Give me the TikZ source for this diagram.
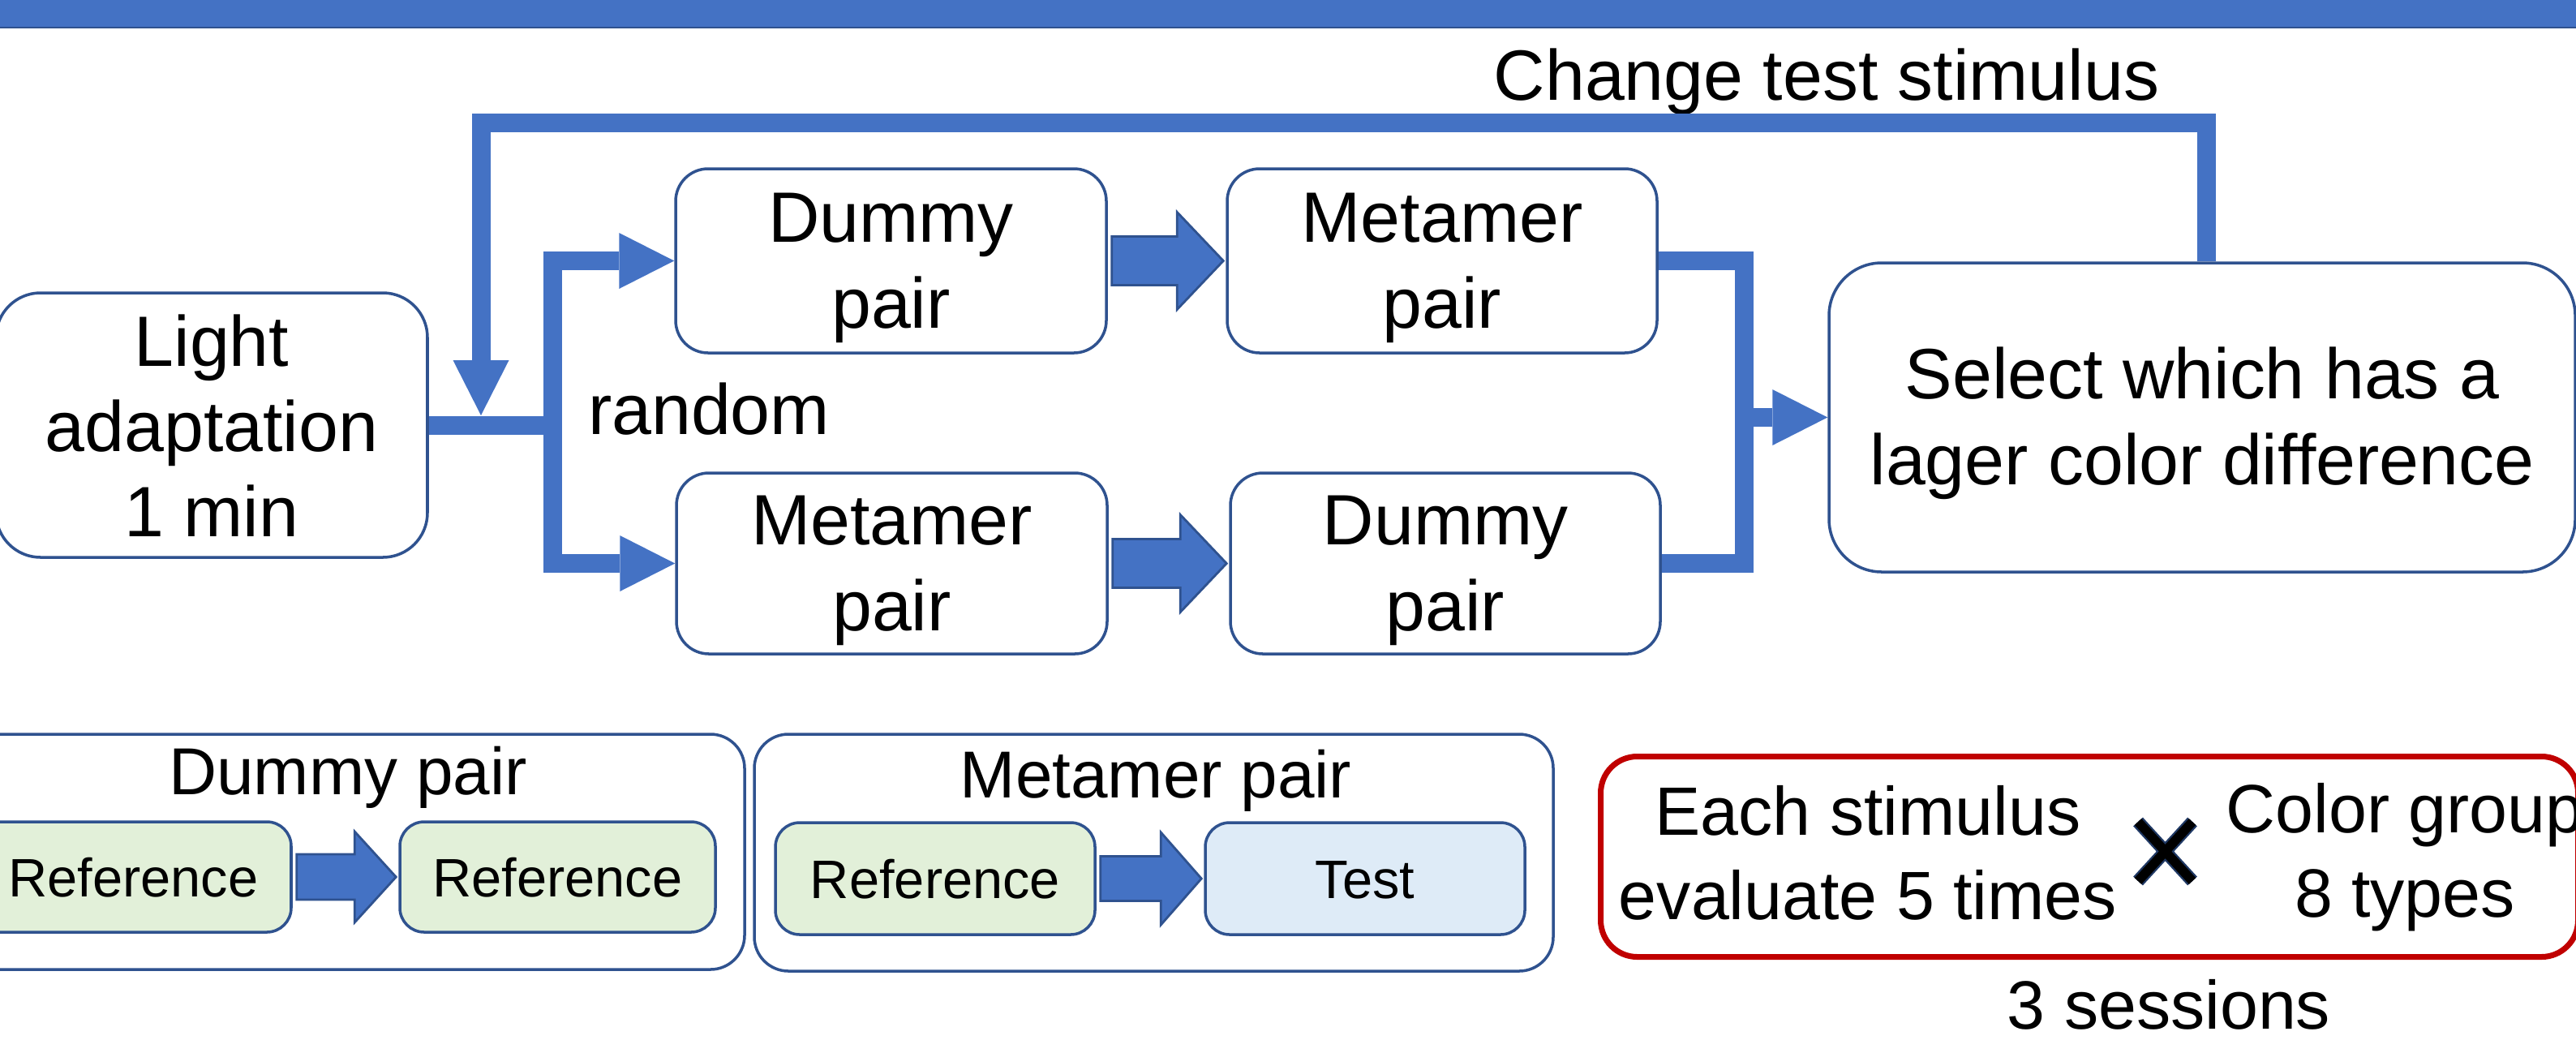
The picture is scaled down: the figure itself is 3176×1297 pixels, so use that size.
\documentclass[tikz,border=0pt]{standalone}
\usepackage{fontspec}
\setmainfont{Liberation Sans}
\usepackage{xcolor}
\usepackage{tikz}
\usetikzlibrary{arrows.meta, calc}
\definecolor{FlowBlue}{RGB}{68, 114, 196}
\definecolor{FlowEdge}{RGB}{47, 82, 143}
\definecolor{RefGreen}{RGB}{226, 240, 217}
\definecolor{TestBlue}{RGB}{222, 235, 247}
\definecolor{NoteRed}{RGB}{192, 0, 0}
\definecolor{CrossEdge}{RGB}{31, 56, 100}

% line strut so that boxes centre their lines like a slide does
\newcommand{\lstrut}{\rule[-0.15em]{0pt}{1.04em}}
\newcommand{\bigtext}{\fontsize{25}{30}\selectfont}
\newcommand{\midtext}{\fontsize{24}{29.5}\selectfont}
\newcommand{\legtext}{\fontsize{23.3}{28}\selectfont}
\newcommand{\smalltext}{\fontsize{19}{23}\selectfont}

\tikzset{
  stepbox/.style={align=center, inner sep=0pt, rounded corners=4mm, draw=FlowEdge,
    line width=1pt, fill=white, font=\bigtext},
  pairbox/.style={align=center, inner sep=0pt, rounded corners=3mm, draw=FlowEdge,
    line width=1pt, fill=RefGreen, font=\smalltext},
  legendbox/.style={rounded corners=4.2mm, draw=FlowEdge, line width=1pt, fill=white},
  notetext/.style={align=center, inner sep=0pt, font=\midtext},
  flow/.style={draw=FlowBlue, line width=2.3mm},
  flowarrow/.style={flow, -{Triangle[length=6.8mm, width=6.9mm, line width=0pt]}},
  blockarrow/.style={fill=FlowBlue, draw=FlowEdge, line width=0.8pt, line join=miter}
}

% fat arrow between two anchors: #3 half shaft, #4 half head, #5 head length
\newcommand{\blockarrow}[5]{%
  \draw[blockarrow] let \p1=(#1), \p2=(#2) in
    (\x1+0.5mm,\y1+#3) -- (\x2-#5,\y1+#3) -- (\x2-#5,\y1+#4) -- (\x2-0.3mm,\y1)
    -- (\x2-#5,\y1-#4) -- (\x2-#5,\y1-#3) -- (\x1+0.5mm,\y1-#3) -- cycle;}

\begin{document}
\begin{tikzpicture}[x=0.1mm, y=0.1mm]
  \useasboundingbox (0,0) rectangle (3176,-1297);
  \clip (0,0) rectangle (3176,-1297);

  % header strip
  \fill[FlowBlue] (0,0) rectangle (3176,-34);
  \draw[FlowEdge, line width=0.8pt] (0,-34) -- (3176,-34);

  % trial flow
  \node[stepbox, rounded corners=5.5mm, minimum width=53.2mm, minimum height=32.6mm]
    (light) at (261,-524) {\lstrut Light\\adaptation\\1 min\lstrut};
  \node[stepbox, minimum width=53.1mm, minimum height=22.7mm] (dummyA) at (1098.5,-321.5) {\lstrut Dummy\\pair\lstrut};
  \node[stepbox, minimum width=53mm, minimum height=22.7mm] (metaA) at (1778,-321.5) {\lstrut Metamer\\pair\lstrut};
  \node[stepbox, minimum width=53.1mm, minimum height=22.3mm] (metaB) at (1099.5,-694.5) {\lstrut Metamer\\pair\lstrut};
  \node[stepbox, minimum width=53mm, minimum height=22.3mm] (dummyB) at (1782,-694.5) {\lstrut Dummy\\pair\lstrut};
  \node[stepbox, rounded corners=6.5mm, minimum width=92mm, minimum height=38.1mm]
    (select) at (2715,-514.5) {\lstrut Select which has a\\lager color difference\lstrut};

  \node[font=\bigtext, anchor=base] (change) at (2252,-123) {Change test stimulus};
  \node[font=\bigtext, anchor=base] (random) at (874,-535) {random};

  \coordinate (split) at (681,-524);
  \coordinate (join) at (2150,-514.5);
  \coordinate (looptop) at (593,-151);
  \coordinate (merge) at (593,-512);

  \draw[flow] (light.east) -- (split);
  \draw[flowarrow] (split) |- (dummyA.west);
  \draw[flowarrow] (split) |- (metaB.west);
  \draw[flow] (metaA.east) -| (join);
  \draw[flow] (dummyB.east) -| (join);
  \draw[flowarrow] (join) -- (select.west);
  \draw[flowarrow] ([xshift=0.5mm]select.north) |- (looptop) -- (merge);

  \blockarrow{dummyA.east}{metaA.west}{3mm}{6mm}{6mm}
  \blockarrow{metaB.east}{dummyB.west}{3mm}{6mm}{6mm}

  % legend: dummy pair
  \node[legendbox, minimum width=98mm, minimum height=29mm] (dummyLeg) at (428,-1050) {};
  \node[font=\legtext, anchor=base] (dummyTitle) at (429,-979) {Dummy pair};
  \node[pairbox, minimum width=38.9mm, minimum height=13.6mm] (refA) at (164.5,-1081) {\lstrut Reference};
  \node[pairbox, minimum width=38.9mm, minimum height=13.6mm] (refB) at (687.5,-1081) {\lstrut Reference};
  \blockarrow{refA.east}{refB.west}{2.8mm}{5.6mm}{5.4mm}

  % legend: metamer pair
  \node[legendbox, minimum width=98.5mm, minimum height=29.2mm] (metaLeg) at (1422.5,-1051) {};
  \node[font=\legtext, anchor=base] (metaTitle) at (1425,-983) {Metamer pair};
  \node[pairbox, minimum width=39.4mm, minimum height=13.8mm] (refC) at (1153,-1083) {\lstrut Reference};
  \node[pairbox, fill=TestBlue, minimum width=39.4mm, minimum height=13.8mm] (test) at (1683,-1083) {\lstrut Test};
  \blockarrow{refC.east}{test.west}{2.75mm}{5.7mm}{5.3mm}

  % repetitions
  \node[draw=NoteRed, line width=2pt, rounded corners=4.5mm, minimum width=120.5mm,
    minimum height=24.7mm] (repeat) at (2576,-1056) {};
  \node[notetext] (perStim) at (2303,-1050) {\lstrut Each stimulus\\evaluate 5 times\lstrut};
  \node[notetext] (groups) at (2965,-1050) {\lstrut Color group\\8 types\lstrut};
  \draw[CrossEdge, line width=1.6mm] (2636,-1013) -- (2703,-1086) (2636,-1086) -- (2703,-1013);
  \draw[black, line width=1.15mm] (2636,-1013) -- (2703,-1086) (2636,-1086) -- (2703,-1013);
  \node[font=\midtext, anchor=base] (sessions) at (2674,-1268) {3 sessions};
\end{tikzpicture}
\end{document}
